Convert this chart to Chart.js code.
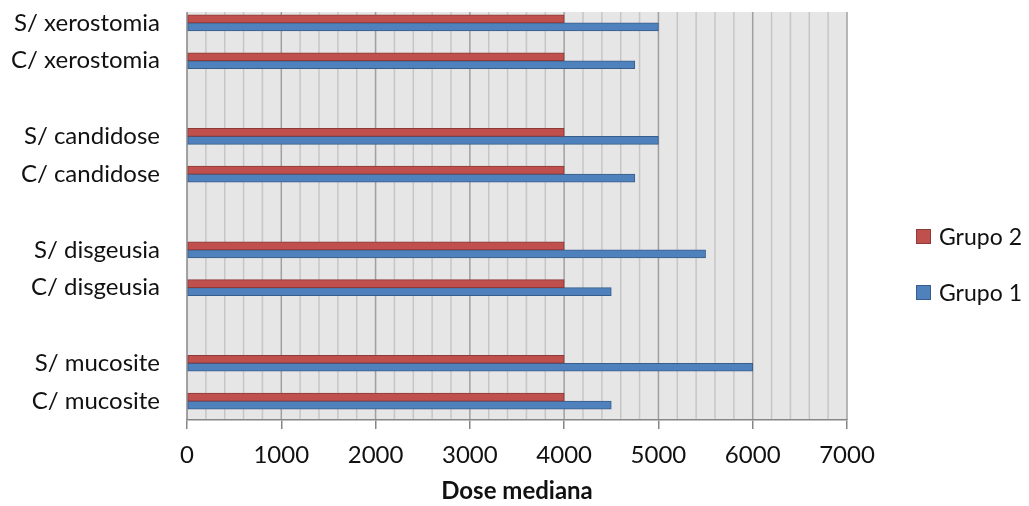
<!DOCTYPE html>
<html>
<head>
<meta charset="utf-8">
<script src="https://cdn.jsdelivr.net/npm/chart.js@4/dist/chart.umd.min.js"></script>
<style>
  html, body { margin: 0; padding: 0; background: #fff; }
  #wrap { position: relative; width: 1029px; height: 506px; }
  #legend { position: absolute; left: 916px; top: 224px; font-family: Lato, sans-serif; font-size: 23px; color: #111; }
  .item { display: flex; align-items: center; height: 24px; margin-bottom: 32px; }
  .box { width: 13px; height: 13px; margin-right: 8px; border: 1px solid; }
</style>
</head>
<body>
<div id="wrap">
  <canvas id="c" width="1029" height="506"></canvas>
  <div id="legend"></div>
</div>
<script>
// Categories (top to bottom); blank entries separate the symptom groups
const categories = [
  'S/ xerostomia', 'C/ xerostomia', '',
  'S/ candidose', 'C/ candidose', '',
  'S/ disgeusia', 'C/ disgeusia', '',
  'S/ mucosite', 'C/ mucosite'
];
const grupo2 = [4000, 4000, null, 4000, 4000, null, 4000, 4000, null, 4000, 4000];
const grupo1 = [5000, 4750, null, 5000, 4750, null, 5500, 4500, null, 6000, 4500];
const xMax = 7000;
const majorStep = 1000;
const minorStep = 200;
const axisTitle = 'Dose mediana';

const FONT = 'Lato, sans-serif';

// Plot background with minor/major vertical gridlines and the left axis line
const plotBackground = {
  id: 'plotBackground',
  beforeDraw(chart) {
    const { ctx, chartArea: a, scales: { x } } = chart;
    const top = a.top + 8;
    ctx.save();
    ctx.fillStyle = '#e6e6e6';
    ctx.fillRect(a.left, top, a.right - a.left, a.bottom - top);
    for (let v = minorStep; v <= xMax; v += minorStep) {
      const px = x.getPixelForValue(v);
      const major = v % majorStep === 0;
      ctx.strokeStyle = major ? '#a0a0a0' : '#c6c6c6';
      ctx.lineWidth = 1.5;
      ctx.beginPath();
      ctx.moveTo(px, top);
      ctx.lineTo(px, a.bottom);
      ctx.stroke();
    }
    ctx.strokeStyle = '#868686';
    ctx.lineWidth = 1.5;
    ctx.beginPath();
    ctx.moveTo(a.left, top);
    ctx.lineTo(a.left, a.bottom);
    ctx.stroke();
    ctx.restore();
  }
};

const datasets = [
  { label: 'Grupo 2', data: grupo2, backgroundColor: '#c0504d', borderColor: '#8c3a38' },
  { label: 'Grupo 1', data: grupo1, backgroundColor: '#4f81bd', borderColor: '#385d8a' }
];

const chart = new Chart(document.getElementById('c'), {
  type: 'bar',
  data: {
    labels: categories,
    datasets: datasets.map(d => Object.assign({ borderWidth: 1, barThickness: 8, borderSkipped: false }, d))
  },
  options: {
    indexAxis: 'y',
    responsive: false,
    animation: false,
    layout: { padding: { top: 4, right: 182, left: 0, bottom: 0 } },
    plugins: { legend: { display: false }, tooltip: { enabled: false } },
    scales: {
      x: {
        min: 0,
        max: xMax,
        ticks: { stepSize: majorStep, color: '#111', font: { family: FONT, size: 24 }, padding: 12, callback: v => String(v) },
        grid: { drawOnChartArea: false, drawTicks: true, tickLength: 9, color: '#868686', lineWidth: 1.5 },
        border: { display: true, color: '#868686', width: 1.5 },
        title: { display: true, text: axisTitle, color: '#111', font: { family: FONT, size: 24, weight: 'bold' }, padding: { top: 4, bottom: 0 } },
        afterFit(s) { s.height = 86; }
      },
      y: {
        ticks: { color: '#111', font: { family: FONT, size: 24 }, padding: 27 },
        grid: { display: false, drawTicks: false },
        border: { display: false },
        afterFit(s) { s.width = 187; s.paddingTop = 0; s.paddingBottom = 0; }
      }
    }
  },
  plugins: [plotBackground]
});

// Legend entries, listed in dataset order
const legend = document.getElementById('legend');
datasets.forEach(d => {
  const item = document.createElement('div');
  item.className = 'item';
  const box = document.createElement('span');
  box.className = 'box';
  box.style.background = d.backgroundColor;
  box.style.borderColor = d.borderColor;
  const text = document.createElement('span');
  text.textContent = d.label;
  item.appendChild(box);
  item.appendChild(text);
  legend.appendChild(item);
});
</script>
</body>
</html>
